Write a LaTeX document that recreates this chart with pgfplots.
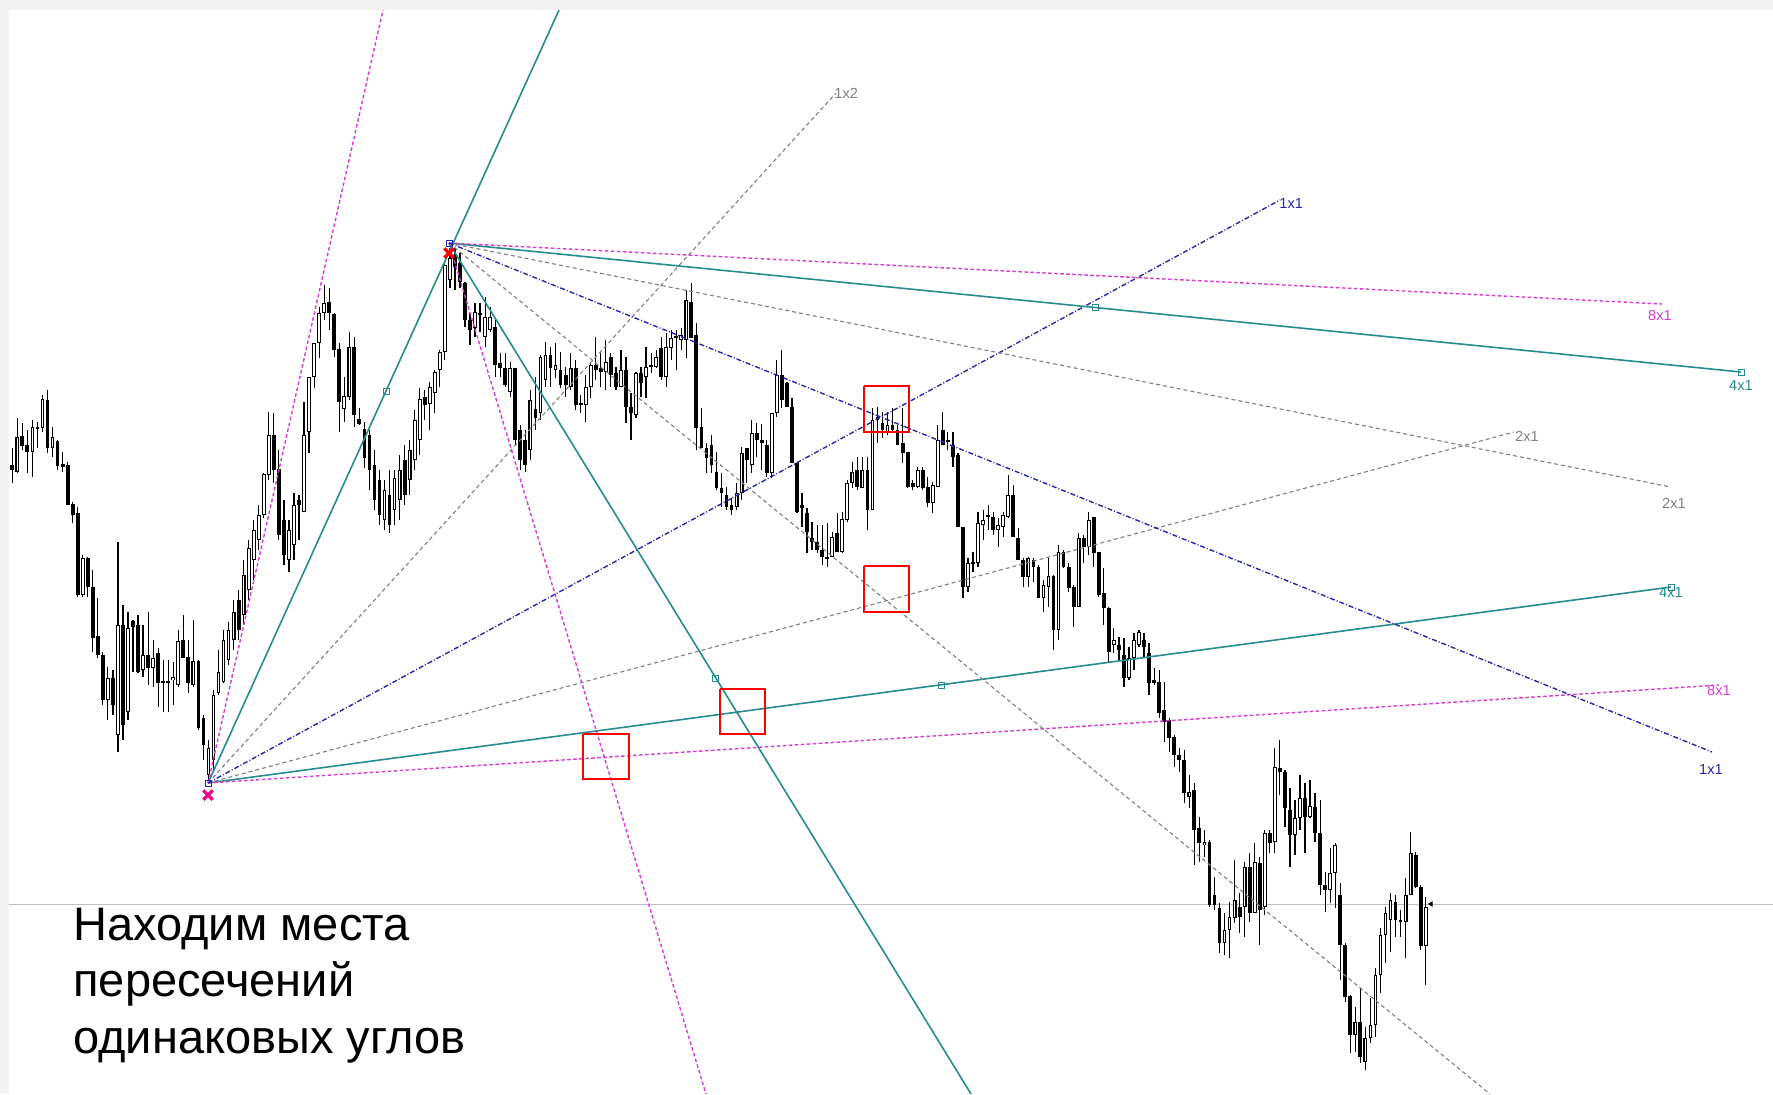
\documentclass[border=0pt]{standalone}
\usepackage{pgfplots}
\pgfplotsset{compat=1.18}
\usepackage{pgfplotstable}
\usepackage{fontspec}
\setmainfont{Liberation Sans}

\definecolor{teal1}{RGB}{40,140,140}
\definecolor{mag1}{RGB}{214,60,214}
\definecolor{gray1}{RGB}{128,128,128}
\definecolor{blue1}{RGB}{40,40,170}
\definecolor{frame1}{RGB}{243,243,243}
\definecolor{pline}{RGB}{192,192,192}

% candles: index, high, low, body top, body bottom, up (1 = hollow)
% (picture pixels, y grows downward)
\pgfplotstableread{
i h l t b k
0 448 483 465 470 0
1 418 473 437 472 1
2 423 450 436 446 0
3 430 473 445 452 0
4 420 477 427 452 1
5 422 448 427 429 1
6 395 432 399 428 1
7 390 453 400 448 0
8 427 457 437 448 1
9 440 470 441 466 0
10 452 472 464 467 0
11 462 505 465 505 0
12 502 523 504 515 0
13 507 597 513 595 0
14 555 597 558 595 1
15 557 597 558 587 0
16 570 652 587 638 0
17 598 658 636 655 0
18 652 705 655 700 0
19 667 720 678 700 1
20 670 715 678 705 0
21 542 752 625 735 1
22 605 740 625 725 0
23 612 720 628 712 1
24 620 672 621 627 0
25 615 673 625 672 0
26 625 677 655 670 1
27 612 685 655 668 0
28 640 687 658 668 1
29 648 707 653 683 0
30 660 712 681 683 1
31 660 712 681 683 0
32 662 705 677 680 1
33 630 687 641 685 1
34 615 658 640 658 0
35 640 693 657 683 0
36 620 687 661 685 1
37 660 730 661 728 0
38 715 760 718 745 0
39 740 783 748 775 1
40 690 770 695 760 1
41 650 695 672 693 1
42 630 683 640 682 1
43 622 665 630 660 1
44 600 650 612 640 1
45 590 640 600 630 0
46 560 625 575 615 1
47 540 600 548 590 1
48 520 580 530 560 1
49 505 550 515 540 1
50 473 518 474 515 1
51 412 480 435 475 1
52 413 483 435 470 0
53 450 540 469 535 0
54 500 565 520 555 0
55 520 572 530 560 1
56 493 560 505 545 1
57 495 540 500 505 0
58 402 512 435 512 1
59 377 453 377 432 1
60 343 388 343 377 1
61 307 358 313 343 1
62 285 320 303 313 1
63 288 330 302 313 0
64 313 357 314 350 0
65 343 432 349 402 0
66 377 422 396 409 1
67 332 400 347 397 1
68 337 427 347 415 0
69 408 425 419 424 0
70 422 468 429 458 0
71 430 490 435 470 0
72 450 510 465 500 0
73 470 525 480 515 0
74 480 530 490 520 1
75 470 533 495 525 0
76 470 525 478 510 1
77 455 520 470 500 1
78 445 505 460 495 0
79 440 495 450 480 1
80 410 470 420 460 1
81 388 455 399 440 1
82 390 420 397 405 0
83 382 430 387 404 1
84 370 413 372 393 1
85 350 387 352 370 1
86 263 360 265 352 1
87 248 288 258 280 1
88 248 290 255 267 0
89 253 288 263 282 0
90 282 327 283 320 0
91 313 345 320 330 0
92 303 337 312 328 1
93 303 332 313 315 1
94 297 347 317 337 1
95 307 332 317 330 1
96 318 377 327 365 0
97 353 377 363 368 0
98 353 387 368 385 0
99 362 397 368 392 1
100 368 445 368 440 0
101 425 470 430 460 0
102 430 472 440 465 0
103 390 460 400 450 1
104 377 430 409 418 0
105 355 420 357 413 1
106 342 387 355 380 1
107 347 387 355 368 0
108 343 378 365 370 1
109 352 388 370 385 0
110 367 397 375 385 0
111 353 390 368 387 1
112 360 410 368 405 0
113 395 413 403 405 0
114 375 422 387 405 1
115 362 398 365 387 1
116 337 380 365 370 0
117 353 387 368 372 0
118 340 390 362 372 1
119 353 387 357 375 0
120 367 390 373 387 0
121 350 387 370 387 1
122 357 423 370 407 0
123 393 440 407 413 0
124 372 418 373 415 1
125 367 397 373 383 0
126 347 398 367 377 1
127 353 373 365 367 1
128 350 368 357 367 1
129 337 380 348 377 0
130 333 387 347 377 1
131 330 360 338 348 1
132 330 370 336 338 0
133 328 350 335 340 1
134 290 358 300 340 1
135 283 337 302 338 0
136 323 450 335 428 0
137 408 448 427 448 0
138 443 473 448 458 0
139 435 473 445 465 0
140 452 490 472 488 0
141 473 507 488 493 0
142 487 510 495 507 0
143 498 515 505 510 0
144 483 510 493 507 1
145 447 500 453 493 1
146 448 483 448 460 0
147 420 473 433 465 1
148 423 457 433 440 0
149 424 470 440 443 0
150 440 477 445 473 0
151 413 478 413 473 1
152 360 417 375 413 1
153 350 408 375 400 0
154 382 407 383 407 0
155 398 463 407 463 0
156 463 513 463 512 0
157 493 527 505 508 0
158 508 553 513 532 0
159 522 550 538 542 0
160 525 553 542 550 0
161 525 565 550 557 0
162 523 567 557 559 1
163 532 557 537 557 1
164 513 552 533 552 0
165 512 553 519 552 1
166 480 522 483 520 1
167 462 488 472 483 1
168 457 490 470 487 0
169 457 488 470 488 1
170 457 530 470 510 0
171 408 510 420 510 1
172 407 443 417 420 0
173 412 438 423 430 0
174 412 435 425 432 1
175 408 432 425 430 0
176 425 445 430 445 0
177 408 463 443 453 0
178 452 488 452 487 0
179 480 490 483 487 0
180 467 488 470 487 1
181 467 490 470 488 0
182 477 507 487 503 0
183 482 513 485 503 1
184 425 487 440 487 1
185 412 445 430 445 0
186 432 450 440 442 0
187 432 467 445 457 0
188 453 527 455 527 0
189 527 598 527 587 0
190 558 592 563 587 1
191 552 572 562 563 0
192 512 567 523 563 1
193 510 540 520 525 1
194 505 530 515 517 1
195 512 535 517 530 0
196 518 547 525 530 1
197 512 537 515 527 1
198 475 518 495 517 1
199 485 537 495 537 0
200 528 560 538 560 0
201 558 587 560 577 0
202 557 587 558 577 1
203 558 582 560 567 0
204 565 598 567 598 0
205 580 612 585 598 1
206 558 607 576 587 1
207 575 650 576 630 0
208 545 640 552 630 1
209 550 568 552 567 0
210 563 592 567 588 0
211 585 627 587 607 0
212 533 607 538 607 1
213 535 563 538 547 0
214 512 555 520 547 1
215 517 567 517 553 0
216 552 597 552 595 0
217 568 625 593 608 0
218 607 662 608 652 0
219 628 653 640 645 1
220 637 660 645 650 0
221 638 687 655 678 0
222 647 680 658 678 1
223 633 670 640 658 1
224 630 647 632 645 1
225 633 657 640 647 0
226 643 695 653 683 0
227 668 685 680 683 0
228 670 718 682 713 0
229 682 742 710 722 0
230 718 752 720 738 0
231 735 767 737 755 0
232 748 772 755 760 0
233 750 803 760 793 0
234 775 808 792 797 1
235 783 865 790 830 0
236 817 862 828 843 0
237 830 857 842 845 1
238 840 907 842 905 0
239 877 910 895 905 0
240 903 953 908 943 0
241 913 955 930 943 1
242 902 958 917 930 1
243 860 923 900 918 1
244 893 933 907 917 0
245 862 937 867 907 1
246 853 922 867 913 0
247 843 913 862 913 1
248 857 945 863 910 0
249 830 915 833 907 1
250 830 853 833 843 0
251 748 853 767 842 1
252 740 795 768 772 0
253 770 827 772 808 0
254 788 867 810 835 0
255 800 855 818 835 1
256 775 830 798 818 1
257 783 853 798 817 0
258 780 818 806 817 1
259 793 842 807 833 0
260 800 895 833 885 0
261 872 912 885 890 0
262 848 903 873 890 1
263 843 908 845 873 1
264 883 980 895 945 0
265 943 1002 945 997 0
266 995 1053 996 1035 0
267 1007 1052 1022 1035 1
268 988 1063 1022 1057 0
269 1027 1070 1038 1062 1
270 998 1043 1025 1038 1
271 968 1037 975 1025 1
272 928 993 935 975 1
273 907 963 913 935 1
274 893 952 900 920 1
275 895 937 902 920 0
276 910 937 920 922 0
277 878 958 895 922 1
278 832 895 853 895 1
279 852 888 855 887 0
280 885 950 887 946 0
281 897 985 907 946 1
}\candles

\begin{document}
\begin{tikzpicture}
\begin{axis}[
  x=0.5pt, y=0.5pt, y dir=reverse,
  xmin=0, xmax=1773, ymin=0, ymax=1094,
  hide axis, clip=true
]
% window frame
\fill[frame1] (axis cs:0,0) rectangle (axis cs:1773,1094);
\fill[white] (axis cs:9,10) rectangle (axis cs:1773,1094);

% price line
\addplot[pline, line width=0.5pt] coordinates {(9,904) (1773,904)};

% wicks
\addplot[draw=none, mark=none,
  error bars/.cd, y dir=both, y explicit, error mark=none,
  error bar style={draw=black, line width=0.6pt, solid}]
  table[x expr=12.3+5.03*\thisrow{i}, y expr=0.5*(\thisrow{h}+\thisrow{l}),
        y error expr=0.5*(\thisrow{l}-\thisrow{h})] {\candles};
% bodies
\addplot[draw=none, mark=none,
  error bars/.cd, y dir=both, y explicit, error mark=none,
  error bar style={draw=black, line width=1.9pt, solid}]
  table[x expr=12.3+5.03*\thisrow{i}, y expr=0.5*(\thisrow{t}+\thisrow{b}),
        y error expr={max(0.5*(\thisrow{b}-\thisrow{t}),0.8)}] {\candles};
% hollow inside of up candles
\addplot[draw=none, mark=none,
  error bars/.cd, y dir=both, y explicit, error mark=none,
  error bar style={draw=white, line width=0.8pt, solid}]
  table[x expr=12.3+5.03*\thisrow{i}, y expr=0.5*(\thisrow{t}+\thisrow{b}),
        y error expr={\thisrow{k}*max(0.5*(\thisrow{b}-\thisrow{t})-1.1,0)}] {\candles};
% last price marker
\addplot[black, only marks, mark=triangle*, mark size=1.2pt, mark options={rotate=90}] coordinates {(1431,904)};

% fans from the low
\addplot[teal1, line width=0.8pt] coordinates {(208,783) (559,10)};
\addplot[teal1, line width=0.8pt] coordinates {(208,783) (1671,587)};
\addplot[mag1, line width=0.7pt, dash pattern=on 1.8pt off 1.2pt] coordinates {(208,783) (383,10)};
\addplot[mag1, line width=0.7pt, dash pattern=on 1.8pt off 1.2pt] coordinates {(208,783) (1719,685)};
\addplot[gray1, line width=0.55pt, dash pattern=on 2pt off 1.5pt] coordinates {(208,783) (836,93)};
\addplot[gray1, line width=0.55pt, dash pattern=on 2pt off 1.5pt] coordinates {(208,783) (1514,432)};
\addplot[blue1, line width=0.7pt, dash pattern=on 2.5pt off 1pt on 0.5pt off 1pt] coordinates {(208,783) (1280,200)};

% fans from the high
\addplot[teal1, line width=0.8pt] coordinates {(449,243) (971,1094)};
\addplot[teal1, line width=0.8pt] coordinates {(449,243) (1741,372)};
\addplot[mag1, line width=0.7pt, dash pattern=on 1.8pt off 1.2pt] coordinates {(449,243) (706,1094)};
\addplot[mag1, line width=0.7pt, dash pattern=on 1.8pt off 1.2pt] coordinates {(449,243) (1662,304)};
\addplot[gray1, line width=0.55pt, dash pattern=on 2pt off 1.5pt] coordinates {(449,243) (1490,1094)};
\addplot[gray1, line width=0.55pt, dash pattern=on 2pt off 1.5pt] coordinates {(449,243) (1671,487)};
\addplot[blue1, line width=0.7pt, dash pattern=on 2.5pt off 1pt on 0.5pt off 1pt] coordinates {(449,243) (1712,752)};

% square markers on the solid lines
\addplot[teal1, only marks, mark=square, mark size=1.5pt, mark options={line width=0.5pt, fill=white}]
  coordinates {(386,391) (715,678) (941,685) (1095,307) (1741,372) (1671,587)};
\addplot[blue1, only marks, mark=square, mark size=1.5pt, mark options={line width=0.5pt, fill=white}]
  coordinates {(449,243) (208,783)};

% pivot crosses
\addplot[red, only marks, mark=x, mark size=3.3pt, mark options={line width=1.6pt}] coordinates {(449,253)};
\addplot[magenta, only marks, mark=x, mark size=3.3pt, mark options={line width=1.6pt}] coordinates {(208,795)};

% red boxes
\addplot[red, line width=1.35pt] coordinates {(864,386) (909,386) (909,432) (864,432) (864,386)};
\addplot[red, line width=1.35pt] coordinates {(864,566) (909,566) (909,612) (864,612) (864,566)};
\addplot[red, line width=1.35pt] coordinates {(720,689) (765,689) (765,734) (720,734) (720,689)};
\addplot[red, line width=1.35pt] coordinates {(583,734) (629,734) (629,779) (583,779) (583,734)};

% line labels
\begin{scope}[font=\fontsize{7.3}{8}\selectfont]
\node[gray1, anchor=west, inner sep=0pt] at (axis cs:834,93) {1x2};
\node[blue1, anchor=west, inner sep=0pt] at (axis cs:1279,203) {1x1};
\node[mag1, inner sep=0pt] at (axis cs:1660,315) {8x1};
\node[teal1, inner sep=0pt] at (axis cs:1741,385) {4x1};
\node[gray1, inner sep=0pt] at (axis cs:1527,436) {2x1};
\node[gray1, inner sep=0pt] at (axis cs:1674,503) {2x1};
\node[teal1, inner sep=0pt] at (axis cs:1671,592) {4x1};
\node[mag1, inner sep=0pt] at (axis cs:1719,690) {8x1};
\node[blue1, inner sep=0pt] at (axis cs:1711,769) {1x1};
\end{scope}

% caption
\begin{scope}[font=\fontsize{23.5}{28}\selectfont]
\node[anchor=base west, inner sep=0pt] at (axis cs:73,940) {Находим места};
\node[anchor=base west, inner sep=0pt] at (axis cs:73,996.5) {пересечений};
\node[anchor=base west, inner sep=0pt] at (axis cs:73,1053) {одинаковых углов};
\end{scope}
\end{axis}
\end{tikzpicture}
\end{document}
